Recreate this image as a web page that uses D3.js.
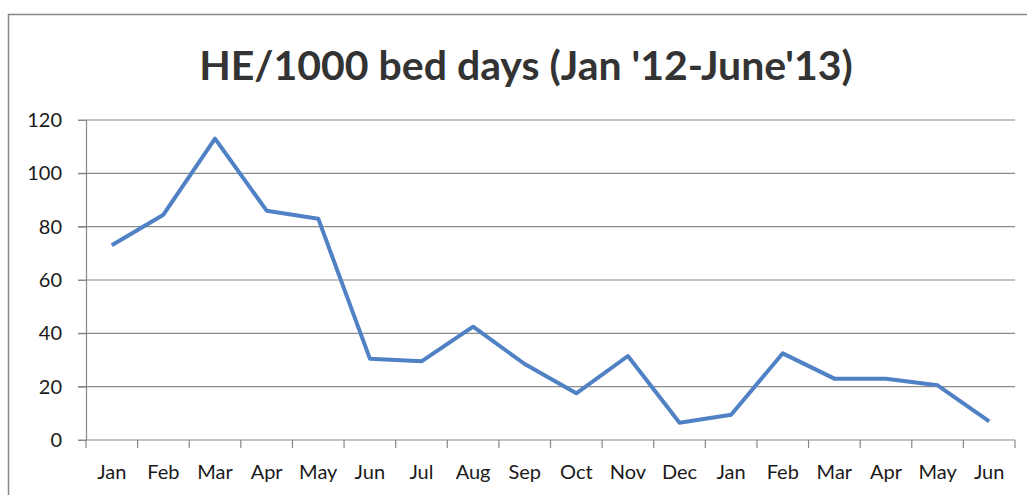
<!DOCTYPE html>
<html>
<head>
<meta charset="utf-8">
<script src="https://cdn.jsdelivr.net/npm/d3@7"></script>
<style>
  html, body { margin: 0; padding: 0; background: #fff; }
  svg { display: block; }
</style>
</head>
<body>
<svg id="chart"></svg>
<script>
// chart data
const months = ["Jan", "Feb", "Mar", "Apr", "May", "Jun", "Jul", "Aug", "Sep",
  "Oct", "Nov", "Dec", "Jan", "Feb", "Mar", "Apr", "May", "Jun"];
const heRate = [73, 84.5, 113, 86, 83, 30.5, 29.5, 42.5, 28.5,
  17.5, 31.5, 6.5, 9.5, 32.5, 23, 23, 20.5, 7];
const yTicks = [0, 20, 40, 60, 80, 100, 120];
const title = "HE/1000 bed days (Jan '12-June'13)";

const width = 1027, height = 495;
const margin = { top: 120, right: 12, bottom: 55, left: 86 };
const font = "Lato, 'Open Sans', sans-serif";

const svg = d3.select("#chart").attr("width", width).attr("height", height);

// outer frame of the chart
svg.append("rect")
  .attr("x", 8.5).attr("y", 14.5)
  .attr("width", width - 4).attr("height", height)
  .attr("fill", "none").attr("stroke", "#888").attr("stroke-width", 1.5);

svg.append("text")
  .attr("x", 526).attr("y", 80)
  .attr("text-anchor", "middle")
  .style("font-family", font)
  .style("font-weight", "bold")
  .style("font-size", "41px")
  .style("fill", "#333")
  .text(title);

const x = d3.scaleBand()
  .domain(d3.range(months.length))
  .range([margin.left, width - margin.right]);

const y = d3.scaleLinear()
  .domain([0, 120])
  .range([height - margin.bottom, margin.top]);

// horizontal grid
svg.append("g")
  .selectAll("line")
  .data(yTicks)
  .join("line")
  .attr("x1", margin.left - 8).attr("x2", width - margin.right)
  .attr("y1", d => y(d)).attr("y2", d => y(d))
  .attr("stroke", "#8a8a8a").attr("stroke-width", 1.2);

// y axis
const yAxis = svg.append("g")
  .attr("transform", `translate(${margin.left},0)`)
  .call(d3.axisLeft(y).tickValues(yTicks).tickSize(8).tickPadding(16));
yAxis.select(".domain").attr("stroke", "#888").attr("stroke-width", 1.2);
yAxis.selectAll(".tick line").attr("stroke", "#888");
yAxis.selectAll("text")
  .style("font-family", font)
  .style("font-size", "20px").style("fill", "#1a1a1a");

// x axis: ticks at band edges, labels centred in bands
const xAxis = svg.append("g")
  .attr("transform", `translate(0,${y(0)})`);
xAxis.selectAll("line")
  .data(d3.range(months.length + 1))
  .join("line")
  .attr("x1", i => margin.left + i * x.step())
  .attr("x2", i => margin.left + i * x.step())
  .attr("y1", 0).attr("y2", 8)
  .attr("stroke", "#888").attr("stroke-width", 1.2);
xAxis.selectAll("text")
  .data(months)
  .join("text")
  .attr("x", (d, i) => x(i) + x.bandwidth() / 2)
  .attr("y", 39)
  .attr("text-anchor", "middle")
  .style("font-family", font)
  .style("font-size", "20px").style("fill", "#1a1a1a")
  .text(d => d);

// the series line
const line = d3.line()
  .x((d, i) => x(i) + x.bandwidth() / 2)
  .y(d => y(d));

svg.append("path")
  .datum(heRate)
  .attr("d", line)
  .attr("fill", "none")
  .attr("stroke", "#4f81c4")
  .attr("stroke-width", 4)
  .attr("stroke-linejoin", "round");
</script>
</body>
</html>
